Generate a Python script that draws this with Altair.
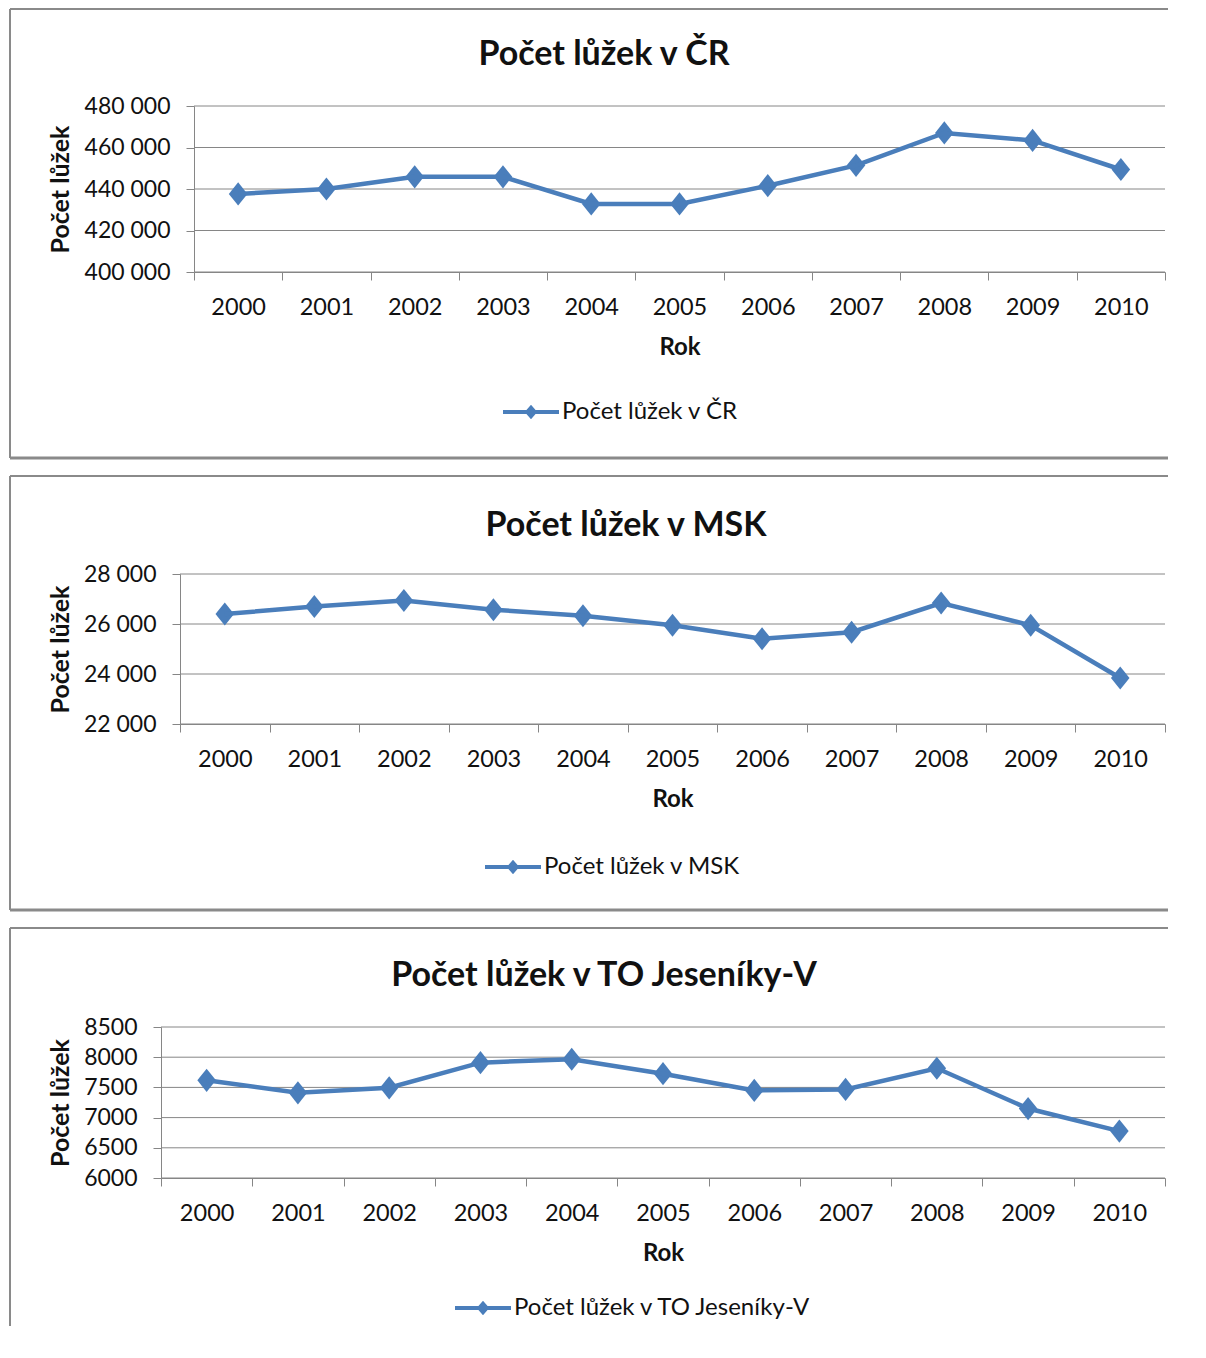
import altair as alt
import pandas as pd

years = [str(y) for y in range(2000, 2011)]
cr_values = [437600, 440000, 445900, 445900, 432800, 432800, 441600, 451400, 467000, 463400, 449400]
msk_values = [26400, 26700, 26940, 26570, 26330, 25950, 25410, 25670, 26840, 25950, 23840]
to_values = [7617, 7411, 7494, 7910, 7966, 7727, 7450, 7467, 7817, 7150, 6777]

titles = ["Počet lůžek v ČR", "Počet lůžek v MSK", "Počet lůžek v TO Jeseníky-V"]
cr_ticks = [400000, 420000, 440000, 460000, 480000]
msk_ticks = [22000, 24000, 26000, 28000]
to_ticks = [6000, 6500, 7000, 7500, 8000, 8500]
y_title = "Počet lůžek"
x_title = "Rok"

FONT = "Lato"
BLUE = "#4a7ebb"
GRAY = "#868686"
BORDER = "#8a8a8a"
TEXT = "#111111"
DIAMOND = "M0,-1L0.8,0L0,1L-0.8,0Z"
LEG_SYMBOL = "M-4,-0.3H4V0.3H-4Z M0,-1.05L0.9,0L0,1.05L-0.9,0Z"

XO = 193      # common plot origin (page x)
XR = 1164     # plot right edge (page x)
BR = 1167     # right end of the frame lines (page x)
W = XR - XO


def panel(values, name, ticks, sep, left, top, height, btop, bbottom,
          vbottom, title_center, title_base, leg_line_start, leg_center):
    df = pd.DataFrame({"Rok": years, "value": values, "series": [name] * len(years)})
    grid_df = pd.DataFrame({"value": ticks})
    if sep:
        label_expr = "replace(format(datum.value, ','), regexp(',', 'g'), ' ')"
    else:
        label_expr = "format(datum.value, 'd')"
    x = alt.X(
        "Rok:O",
        bandPosition=0.5,
        scale=alt.Scale(type="band", paddingInner=0, paddingOuter=0,
                        range=[left - XO, W]),
        axis=alt.Axis(
            title=x_title, labelAngle=0, tickBand="extent", grid=False,
            domainColor=GRAY, tickColor=GRAY, tickSize=8, domainWidth=1,
            labelFont=FONT, labelFontSize=23.5, labelColor=TEXT, labelPadding=15,
            titleFont=FONT, titleFontSize=24, titleFontWeight="bold", titleColor=TEXT,
            titleY=75, titleBaseline="middle",
        ),
    )
    y = alt.Y(
        "value:Q",
        scale=alt.Scale(domain=[ticks[0], ticks[-1]], nice=False, zero=False),
        axis=alt.Axis(
            values=ticks, labelExpr=label_expr, title=y_title, grid=False,
            offset=XO - left,
            domainColor=GRAY, tickColor=GRAY, tickSize=8,
            labelFont=FONT, labelFontSize=23, labelColor=TEXT, labelPadding=16,
            titleFont=FONT, titleFontSize=25, titleFontWeight="bold", titleColor=TEXT,
            titleX=59 - left, titleY=height / 2, titleAngle=270,
            titleAlign="center", titleBaseline="middle",
        ),
    )
    color = alt.Color(
        "series:N",
        scale=alt.Scale(range=[BLUE]),
        legend=alt.Legend(
            title=None, orient="none",
            legendX=leg_line_start + 14 - XO, legendY=leg_center - top - 12,
            symbolType=LEG_SYMBOL, symbolSize=196, symbolFillColor=BLUE,
            symbolStrokeWidth=0, labelOffset=19, padding=0, labelLimit=400,
            labelFont=FONT, labelFontSize=24, labelColor=TEXT,
        ),
    )
    base = alt.Chart(df)
    grid = alt.Chart(grid_df).mark_rule(color=GRAY, strokeWidth=1).encode(
        y=y, x=alt.value(left - XO), x2=alt.value(W))
    pts = base.mark_point(shape=DIAMOND, size=540, filled=True, opacity=1).encode(
        x=x, y=y, color=color)
    line = base.mark_line(strokeWidth=4.5, color=BLUE).encode(x=x, y=y, color=color)

    one = alt.Chart(pd.DataFrame({"a": [0]}))
    bl = 9 - XO
    br = BR - XO
    rules = [
        one.mark_rule(color=BORDER, strokeWidth=2).encode(
            x=alt.value(bl), x2=alt.value(br), y=alt.value(btop - top)),
        one.mark_rule(color=BORDER, strokeWidth=2).encode(
            x=alt.value(bl), y=alt.value(btop - top), y2=alt.value(vbottom - top)),
    ]
    if bbottom is not None:
        rules.append(one.mark_rule(color=BORDER, strokeWidth=3).encode(
            x=alt.value(bl), x2=alt.value(br), y=alt.value(bbottom - top)))
    title = one.mark_text(
        text=name, font=FONT, fontSize=34, fontWeight="bold", color=TEXT,
        align="center", baseline="alphabetic",
    ).encode(x=alt.value(title_center - XO), y=alt.value(title_base - top))
    return alt.layer(*rules, grid, title, pts, line).properties(width=W, height=height)


p1 = panel(cr_values, titles[0], cr_ticks, True, 193, 106, 166, 9, 458, 458,
           603, 65, 504, 412)
p2 = panel(msk_values, titles[1], msk_ticks, True, 179, 574, 150, 476, 910, 910,
           625, 536, 486, 867)
p3 = panel(to_values, titles[2], to_ticks, False, 160, 1026, 151, 927, None, 1325,
           603, 985, 456, 1307)

chart = alt.vconcat(p1, p2, p3, spacing=15).resolve_scale(
    color="independent"
).resolve_legend(color="independent").properties(
    padding={"left": 0, "top": 0, "right": 0, "bottom": 0},
    background="white",
).configure_view(strokeWidth=0)

chart.save("out.html", embed_options={"renderer": "svg", "actions": False})
